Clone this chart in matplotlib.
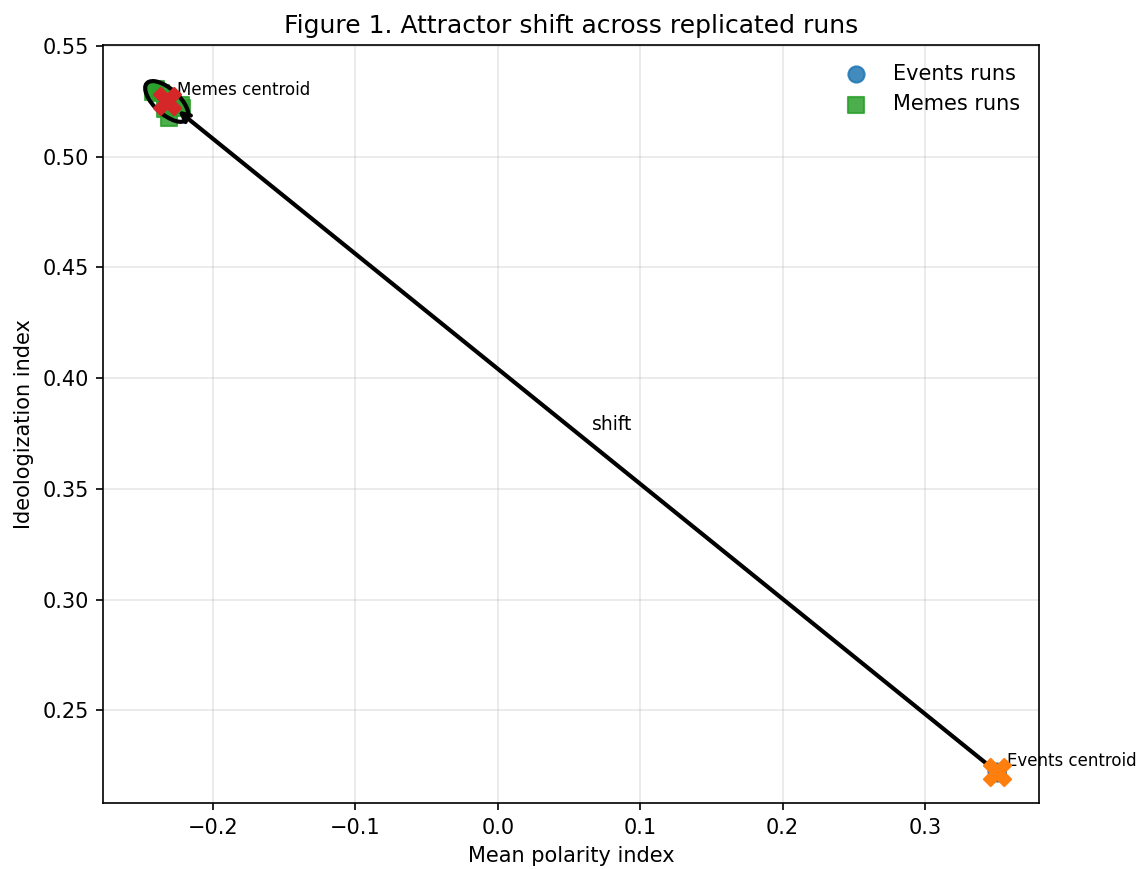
import numpy as np
import matplotlib
matplotlib.use("Agg")
import matplotlib.pyplot as plt
from matplotlib.patches import Ellipse

# ---- data ----
events_x = [0.3500, 0.3508, 0.3503, 0.3506, 0.3502, 0.3505]
events_y = [0.2224, 0.2218, 0.2222, 0.2219, 0.2223, 0.2220]
memes_x = [-0.2400, -0.2310, -0.2215, -0.2424, -0.2337, -0.2364, -0.2321, -0.2221]
memes_y = [0.5306, 0.5175, 0.5220, 0.5294, 0.5217, 0.5290, 0.5265, 0.5233]

title = "Figure 1. Attractor shift across replicated runs"
xlabel = "Mean polarity index"
ylabel = "Ideologization index"
xlim = (-0.277, 0.380)
ylim = (0.2081, 0.5505)


def cov_ellipse(ax, x, y, n_std=2.0, **kw):
    x = np.asarray(x); y = np.asarray(y)
    cov = np.cov(x, y)
    vals, vecs = np.linalg.eigh(cov)
    order = vals.argsort()[::-1]
    vals, vecs = vals[order], vecs[:, order]
    angle = np.degrees(np.arctan2(vecs[1, 0], vecs[0, 0]))
    w, h = 2 * n_std * np.sqrt(np.maximum(vals, 0))
    e = Ellipse((x.mean(), y.mean()), w, h, angle=angle, fill=False, **kw)
    ax.add_patch(e)
    return e


fig = plt.figure(figsize=(1141 / 150, 869 / 150), dpi=150)
ax = fig.add_axes([0.0905, 0.0760, 0.9106 - 0.0905, 0.9482 - 0.0760])

ax.scatter(events_x, events_y, s=60, marker="o", color="tab:blue", alpha=0.85,
           label="Events runs", zorder=2)
ax.scatter(memes_x, memes_y, s=60, marker="s", color="tab:green", alpha=0.85,
           label="Memes runs", zorder=2)

cov_ellipse(ax, events_x, events_y, edgecolor="black", lw=2, zorder=3)
cov_ellipse(ax, memes_x, memes_y, edgecolor="black", lw=2, zorder=3)

ev_c = (np.mean(events_x), np.mean(events_y))
me_c = (np.mean(memes_x), np.mean(memes_y))

ax.scatter([ev_c[0]], [ev_c[1]], s=170, marker="X", color="tab:orange", zorder=5)
ax.scatter([me_c[0]], [me_c[1]], s=170, marker="X", color="tab:red", zorder=5)

ax.annotate("", xy=me_c, xytext=ev_c,
            arrowprops=dict(arrowstyle="->", lw=2, color="black",
                            shrinkA=7, shrinkB=7), zorder=4)

mid = ((ev_c[0] + me_c[0]) / 2, (ev_c[1] + me_c[1]) / 2)
ax.annotate("shift", xy=mid, xytext=(5, 3), textcoords="offset points", fontsize=9)
ax.annotate("Events centroid", xy=ev_c, xytext=(5, 3), textcoords="offset points", fontsize=8)
ax.annotate("Memes centroid", xy=me_c, xytext=(5, 3), textcoords="offset points", fontsize=8)

ax.set_xlim(*xlim)
ax.set_ylim(*ylim)
ax.set_xlabel(xlabel)
ax.set_ylabel(ylabel)
ax.set_title(title)
ax.grid(True, alpha=0.3)
ax.legend(loc="upper right", frameon=False)

fig.savefig("out.png", dpi=150)
